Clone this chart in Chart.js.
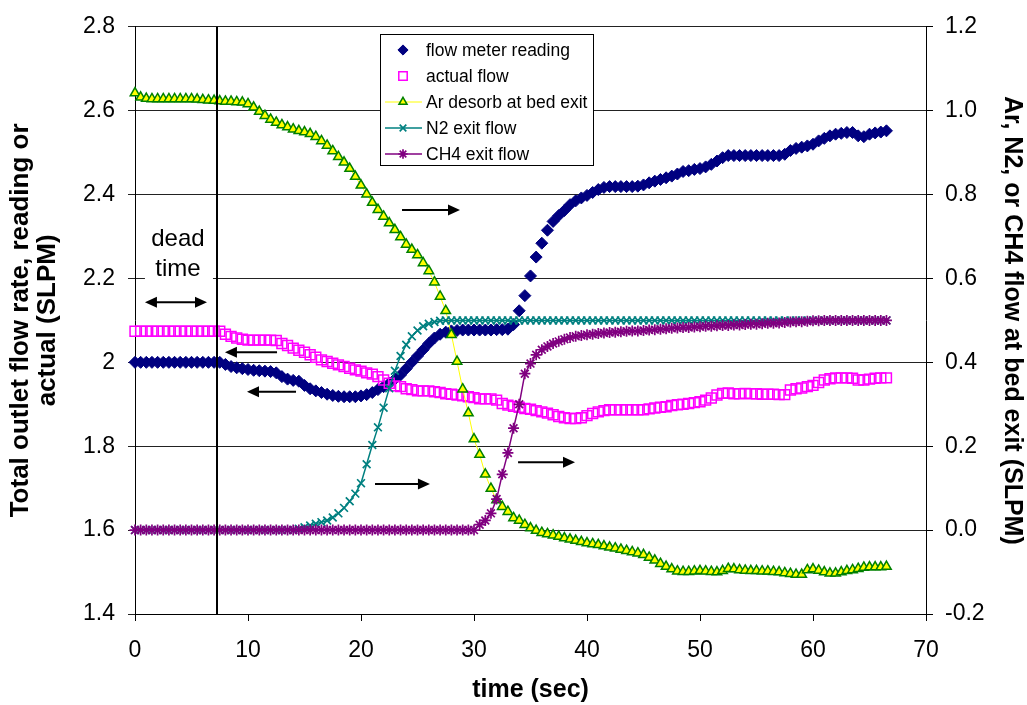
<!DOCTYPE html>
<html><head><meta charset="utf-8">
<script src="https://cdn.jsdelivr.net/npm/chart.js@4/dist/chart.umd.min.js"></script>
<style>html,body{margin:0;padding:0;background:#fff;overflow:hidden}canvas{display:block}</style>
</head><body>
<canvas id="c" width="1027" height="705"></canvas>
<script>
// ---------------- data ----------------
const timeSec = [
  0,0.5,1,1.5,2,2.5,3,3.5,4,4.5,
  5,5.5,6,6.5,7,7.5,8,8.5,9,9.5,
  10,10.5,11,11.5,12,12.5,13,13.5,14,14.5,
  15,15.5,16,16.5,17,17.5,18,18.5,19,19.5,
  20,20.5,21,21.5,22,22.5,23,23.5,24,24.5,
  25,25.5,26,26.5,27,27.5,28,28.5,29,29.5,
  30,30.5,31,31.5,32,32.5,33,33.5,34,34.5,
  35,35.5,36,36.5,37,37.5,38,38.5,39,39.5,
  40,40.5,41,41.5,42,42.5,43,43.5,44,44.5,
  45,45.5,46,46.5,47,47.5,48,48.5,49,49.5,
  50,50.5,51,51.5,52,52.5,53,53.5,54,54.5,
  55,55.5,56,56.5,57,57.5,58,58.5,59,59.5,
  60,60.5,61,61.5,62,62.5,63,63.5,64,64.5,
  65,65.5,66,66.5];

// left axis (SLPM)
const flowMeterReading = [
  2.000,2.000,2.000,2.000,2.000,2.000,2.000,2.000,2.000,2.000,
  2.000,2.000,2.000,2.000,2.000,2.000,1.995,1.990,1.987,1.985,
  1.983,1.981,1.980,1.979,1.978,1.975,1.966,1.960,1.957,1.955,
  1.945,1.937,1.932,1.928,1.924,1.921,1.919,1.918,1.918,1.918,
  1.920,1.923,1.928,1.935,1.942,1.950,1.960,1.970,1.985,2.000,
  2.015,2.030,2.045,2.058,2.067,2.072,2.075,2.076,2.077,2.077,
  2.077,2.077,2.077,2.077,2.078,2.078,2.079,2.090,2.123,2.159,
  2.206,2.251,2.284,2.315,2.336,2.350,2.362,2.376,2.385,2.392,
  2.398,2.405,2.412,2.417,2.419,2.419,2.419,2.419,2.419,2.420,
  2.423,2.428,2.432,2.436,2.440,2.444,2.449,2.455,2.457,2.460,
  2.462,2.466,2.472,2.480,2.488,2.493,2.493,2.493,2.493,2.493,
  2.493,2.493,2.493,2.493,2.493,2.496,2.505,2.510,2.513,2.516,
  2.520,2.528,2.534,2.540,2.544,2.546,2.548,2.548,2.540,2.538,
  2.544,2.547,2.549,2.552];

const actualFlow = [
  2.074,2.074,2.074,2.074,2.074,2.074,2.074,2.074,2.074,2.074,
  2.074,2.074,2.074,2.074,2.074,2.074,2.067,2.062,2.058,2.055,
  2.053,2.053,2.053,2.053,2.053,2.052,2.045,2.040,2.034,2.029,
  2.024,2.018,2.012,2.006,2.002,1.998,1.994,1.990,1.986,1.982,
  1.979,1.975,1.972,1.966,1.958,1.950,1.944,1.942,1.937,1.935,
  1.932,1.932,1.932,1.930,1.928,1.925,1.924,1.922,1.920,1.918,
  1.916,1.913,1.913,1.913,1.910,1.902,1.898,1.895,1.893,1.890,
  1.888,1.885,1.882,1.879,1.875,1.871,1.868,1.866,1.866,1.868,
  1.873,1.878,1.882,1.885,1.887,1.887,1.887,1.887,1.887,1.887,
  1.887,1.889,1.891,1.893,1.894,1.897,1.899,1.900,1.902,1.904,
  1.906,1.910,1.915,1.922,1.926,1.927,1.925,1.925,1.926,1.925,
  1.925,1.924,1.924,1.924,1.923,1.923,1.934,1.937,1.939,1.942,
  1.945,1.952,1.958,1.961,1.963,1.963,1.963,1.962,1.958,1.958,
  1.960,1.962,1.963,1.963];

// right axis (SLPM)
const arDesorb = [
  1.042,1.032,1.029,1.028,1.028,1.028,1.028,1.028,1.028,1.028,
  1.028,1.027,1.026,1.025,1.024,1.023,1.022,1.022,1.021,1.020,
  1.016,1.008,0.998,0.988,0.979,0.972,0.966,0.961,0.956,0.952,
  0.949,0.945,0.938,0.928,0.917,0.904,0.890,0.877,0.862,0.843,
  0.822,0.801,0.781,0.764,0.748,0.732,0.716,0.699,0.681,0.669,
  0.656,0.637,0.618,0.591,0.557,0.523,0.466,0.402,0.336,0.279,
  0.217,0.180,0.133,0.099,0.072,0.056,0.044,0.029,0.023,0.013,
  0.005,-0.001,-0.006,-0.009,-0.012,-0.015,-0.019,-0.022,-0.025,-0.028,
  -0.031,-0.033,-0.035,-0.038,-0.041,-0.043,-0.046,-0.049,-0.052,-0.055,
  -0.059,-0.065,-0.072,-0.080,-0.087,-0.093,-0.098,-0.099,-0.099,-0.098,
  -0.097,-0.098,-0.099,-0.100,-0.097,-0.092,-0.093,-0.095,-0.096,-0.097,
  -0.097,-0.098,-0.098,-0.099,-0.100,-0.102,-0.104,-0.106,-0.106,-0.095,
  -0.093,-0.096,-0.100,-0.103,-0.103,-0.100,-0.097,-0.095,-0.092,-0.089,
  -0.088,-0.088,-0.088,-0.087];

const n2ExitFlow = [
  0,0,0,0,0,0,0,0,0,0,
  0,0,0,0,0,0,0,0,0,0,
  0,0,0,0,0,0,0,0,0,0.003,
  0.007,0.011,0.015,0.019,0.023,0.030,0.040,0.053,0.069,0.087,
  0.112,0.157,0.203,0.245,0.292,0.338,0.380,0.415,0.442,0.462,
  0.476,0.486,0.492,0.496,0.499,0.500,0.500,0.500,0.500,0.500,
  0.5,0.5,0.5,0.5,0.5,0.5,0.5,0.5,0.5,0.5,
  0.5,0.5,0.5,0.5,0.5,0.5,0.5,0.5,0.5,0.5,
  0.5,0.5,0.5,0.5,0.5,0.5,0.5,0.5,0.5,0.5,
  0.5,0.5,0.5,0.5,0.5,0.5,0.5,0.5,0.5,0.5,
  0.5,0.5,0.5,0.5,0.5,0.5,0.5,0.5,0.5,0.5,
  0.5,0.5,0.5,0.5,0.5,0.5,0.5,0.5,0.5,0.5,
  0.5,0.5,0.5,0.5,0.5,0.5,0.5,0.5,0.5,0.5,
  0.5,0.5,0.5,0.5];

const ch4ExitFlow = [
  0,0,0,0,0,0,0,0,0,0,
  0,0,0,0,0,0,0,0,0,0,
  0,0,0,0,0,0,0,0,0,0,
  0,0,0,0,0,0,0,0,0,0,
  0,0,0,0,0,0,0,0,0,0,
  0,0,0,0,0,0,0,0,0,0,
  0,0.013,0.023,0.040,0.074,0.133,0.184,0.243,0.300,0.373,
  0.397,0.418,0.430,0.438,0.445,0.450,0.455,0.459,0.462,0.464,
  0.466,0.467,0.469,0.470,0.471,0.472,0.473,0.474,0.475,0.475,
  0.476,0.477,0.478,0.479,0.480,0.481,0.482,0.483,0.483,0.484,
  0.485,0.486,0.486,0.487,0.488,0.488,0.489,0.489,0.490,0.491,
  0.491,0.492,0.493,0.493,0.494,0.495,0.496,0.497,0.497,0.498,
  0.499,0.499,0.500,0.500,0.500,0.500,0.500,0.500,0.500,0.500,
  0.5,0.5,0.5,0.5];

const seriesNames = ['flow meter reading','actual flow','Ar desorb at bed exit','N2 exit flow','CH4 exit flow'];
const xTickValues = [0,10,20,30,40,50,60,70];
const leftTickValues = [1.4,1.6,1.8,2.0,2.2,2.4,2.6,2.8];
const rightTickValues = [-0.2,0.0,0.2,0.4,0.6,0.8,1.0,1.2];
const leftTitle = ['Total outlet flow rate, reading or','actual (SLPM)'];
const rightTitle = 'Ar, N2, or CH4 flow at bed exit (SLPM)';
const xTitle = 'time (sec)';
const deadTimeSec = 7.3;
const deadTimeText = ['dead','time'];

// ---------------- chart ----------------
const FONT = "'Liberation Sans', Arial, sans-serif";
const pts = ys => timeSec.map((t,i)=>({x:t,y:ys[i]}));

const datasets = [
  {label:seriesNames[0], data:pts(flowMeterReading), yAxisID:'y', showLine:false,
   pointStyle:'rectRot', pointRadius:6, pointBackgroundColor:'#000080', pointBorderColor:'#000080',
   pointBorderWidth:1, borderColor:'#000080', backgroundColor:'#000080', order:5, clip:false},
  {label:seriesNames[1], data:pts(actualFlow), yAxisID:'y', showLine:false,
   pointStyle:'rect', pointRadius:7, pointBackgroundColor:'rgba(0,0,0,0)', pointBorderColor:'#FF00FF',
   pointBorderWidth:1.5, borderColor:'#FF00FF', backgroundColor:'rgba(0,0,0,0)', order:4, clip:false},
  {label:seriesNames[2], data:pts(arDesorb), yAxisID:'y2', showLine:true,
   borderColor:'#FFFF00', borderWidth:1, pointStyle:'triangle', pointRadius:5.5,
   pointBackgroundColor:'#FFFF00', pointBorderColor:'#008000', pointBorderWidth:1.5,
   backgroundColor:'#FFFF00', order:3, clip:false},
  {label:seriesNames[3], data:pts(n2ExitFlow), yAxisID:'y2', showLine:true,
   borderColor:'#008080', borderWidth:1.5, pointStyle:'crossRot', pointRadius:5.5,
   pointBorderColor:'#008080', pointBackgroundColor:'#008080', pointBorderWidth:1.7,
   backgroundColor:'#008080', order:2, clip:false},
  {label:seriesNames[4], data:pts(ch4ExitFlow), yAxisID:'y2', showLine:true,
   borderColor:'#800080', borderWidth:1.5, pointStyle:'star', pointRadius:5.5,
   pointBorderColor:'#800080', pointBackgroundColor:'#800080', pointBorderWidth:1.7,
   backgroundColor:'#800080', order:1, clip:false}
];

function arrow(ctx, x1, y1, x2, y2, both){
  const hl = 12, hw = 5.5;
  ctx.save();
  ctx.strokeStyle = '#000'; ctx.fillStyle = '#000'; ctx.lineWidth = 2;
  const dir = Math.sign(x2 - x1);
  const sx = both ? x1 + dir*hl*0.8 : x1;
  ctx.beginPath(); ctx.moveTo(sx, y1); ctx.lineTo(x2 - dir*hl*0.8, y2); ctx.stroke();
  const head = (hx, d) => {
    ctx.beginPath(); ctx.moveTo(hx, y2); ctx.lineTo(hx - d*hl, y2 - hw); ctx.lineTo(hx - d*hl, y2 + hw); ctx.closePath(); ctx.fill();
  };
  head(x2, dir);
  if (both) head(x1, -dir);
  ctx.restore();
}

const overlay = {
  id:'overlay',
  afterDraw(chart){
    const ctx = chart.ctx, xs = chart.scales.x, ys = chart.scales.y, ca = chart.chartArea;
    const X = v => xs.getPixelForValue(v), Y = v => ys.getPixelForValue(v);
    ctx.save();
    // dead time label with white background
    ctx.fillStyle = '#fff';
    ctx.fillRect(X(0.88), Y(2.332), X(6.9)-X(0.88), Y(2.178)-Y(2.332));
    ctx.fillStyle = '#000';
    ctx.font = '24px ' + FONT; ctx.textAlign = 'center'; ctx.textBaseline = 'middle';
    ctx.fillText(deadTimeText[0], X(3.8), Y(2.292));
    ctx.fillText(deadTimeText[1], X(3.8), Y(2.221));
    // dead time vertical line
    ctx.strokeStyle = '#000'; ctx.lineWidth = 2;
    ctx.beginPath(); ctx.moveTo(Math.round(X(deadTimeSec)), ca.top); ctx.lineTo(Math.round(X(deadTimeSec)), ca.bottom); ctx.stroke();
    // arrows
    arrow(ctx, X(0.88), Y(2.143), X(6.37), Y(2.143), true);
    arrow(ctx, X(12.57), Y(2.024), X(7.96), Y(2.024), false);
    arrow(ctx, X(14.25), Y(1.93), X(9.91), Y(1.93), false);
    arrow(ctx, X(23.63), Y(2.363), X(28.76), Y(2.363), false);
    arrow(ctx, X(21.24), Y(1.71), X(26.1), Y(1.71), false);
    arrow(ctx, X(33.9), Y(1.762), X(38.94), Y(1.762), false);

    // legend
    const lx = 380, ly = 34, lw = 213, lh = 131;
    ctx.fillStyle = '#fff'; ctx.fillRect(lx, ly, lw, lh);
    ctx.strokeStyle = '#000'; ctx.lineWidth = 1; ctx.strokeRect(lx+0.5, ly+0.5, lw, lh);
    ctx.font = '17.5px ' + FONT; ctx.textAlign = 'left'; ctx.textBaseline = 'middle';
    chart.data.datasets.forEach((ds, i) => {
      const yy = 50 + i*26;
      if (ds.showLine){
        ctx.strokeStyle = ds.borderColor; ctx.lineWidth = ds.borderWidth;
        ctx.beginPath(); ctx.moveTo(385, yy); ctx.lineTo(422, yy); ctx.stroke();
      }
      ctx.fillStyle = ds.pointBackgroundColor; ctx.strokeStyle = ds.pointBorderColor; ctx.lineWidth = ds.pointBorderWidth;
      Chart.helpers.drawPoint(ctx, {pointStyle: ds.pointStyle, radius: ds.pointRadius*0.85, rotation: 0, borderWidth: ds.pointBorderWidth}, 403, yy);
      ctx.fillStyle = '#000';
      ctx.fillText(ds.label, 426, yy + 1);
    });

    // axis titles
    ctx.fillStyle = '#000';
    ctx.font = 'bold 25px ' + FONT; ctx.textAlign = 'center'; ctx.textBaseline = 'middle';
    ctx.fillText(xTitle, (ca.left+ca.right)/2, 690);
    const cy = (ca.top + ca.bottom)/2;
    ctx.save(); ctx.translate(1012, cy); ctx.rotate(Math.PI/2); ctx.fillText(rightTitle, 0, 0); ctx.restore();
    ctx.font = 'bold 26px ' + FONT;
    ctx.save(); ctx.translate(21, cy); ctx.rotate(-Math.PI/2); ctx.fillText(leftTitle[0], 0, 0); ctx.restore();
    ctx.save(); ctx.translate(48, cy); ctx.rotate(-Math.PI/2); ctx.fillText(leftTitle[1], 0, 0); ctx.restore();
    ctx.restore();
  }
};

const tickFont = {family: FONT, size: 23};
new Chart(document.getElementById('c'), {
  type:'line',
  data:{datasets},
  options:{
    responsive:false, animation:false, devicePixelRatio:1,
    layout:{padding:{top:22, left:0, right:0, bottom:0}},
    plugins:{legend:{display:false}, tooltip:{enabled:false}},
    scales:{
      x:{type:'linear', position:'bottom', min:0, max:70,
         afterBuildTicks: s => { s.ticks = xTickValues.map(v=>({value:v})); },
         afterFit: s => { s.height = 91; },
         ticks:{font:tickFont, color:'#000', padding:16, maxRotation:0, autoSkip:false},
         grid:{drawOnChartArea:false, drawTicks:true, tickLength:7, color:'#000'},
         border:{display:true, color:'#000', width:1}},
      y:{type:'linear', position:'left', min:1.4, max:2.8,
         afterBuildTicks: s => { s.ticks = leftTickValues.map(v=>({value:v})); },
         afterFit: s => { s.width = 135; },
         ticks:{font:tickFont, color:'#000', padding:13, callback: v => String(Number(v.toFixed(1)))},
         grid:{drawOnChartArea:true, drawTicks:true, tickLength:7, color:'#222'},
         border:{display:true, color:'#000', width:1}},
      y2:{type:'linear', position:'right', min:-0.2, max:1.2,
         afterBuildTicks: s => { s.ticks = rightTickValues.map(v=>({value:v})); },
         afterFit: s => { s.width = 101; },
         ticks:{font:tickFont, color:'#000', padding:12, callback: v => v.toFixed(1)},
         grid:{drawOnChartArea:false, drawTicks:true, tickLength:7, color:'#000'},
         border:{display:true, color:'#000', width:1}}
    }
  },
  plugins:[overlay]
});
</script>
</body></html>
